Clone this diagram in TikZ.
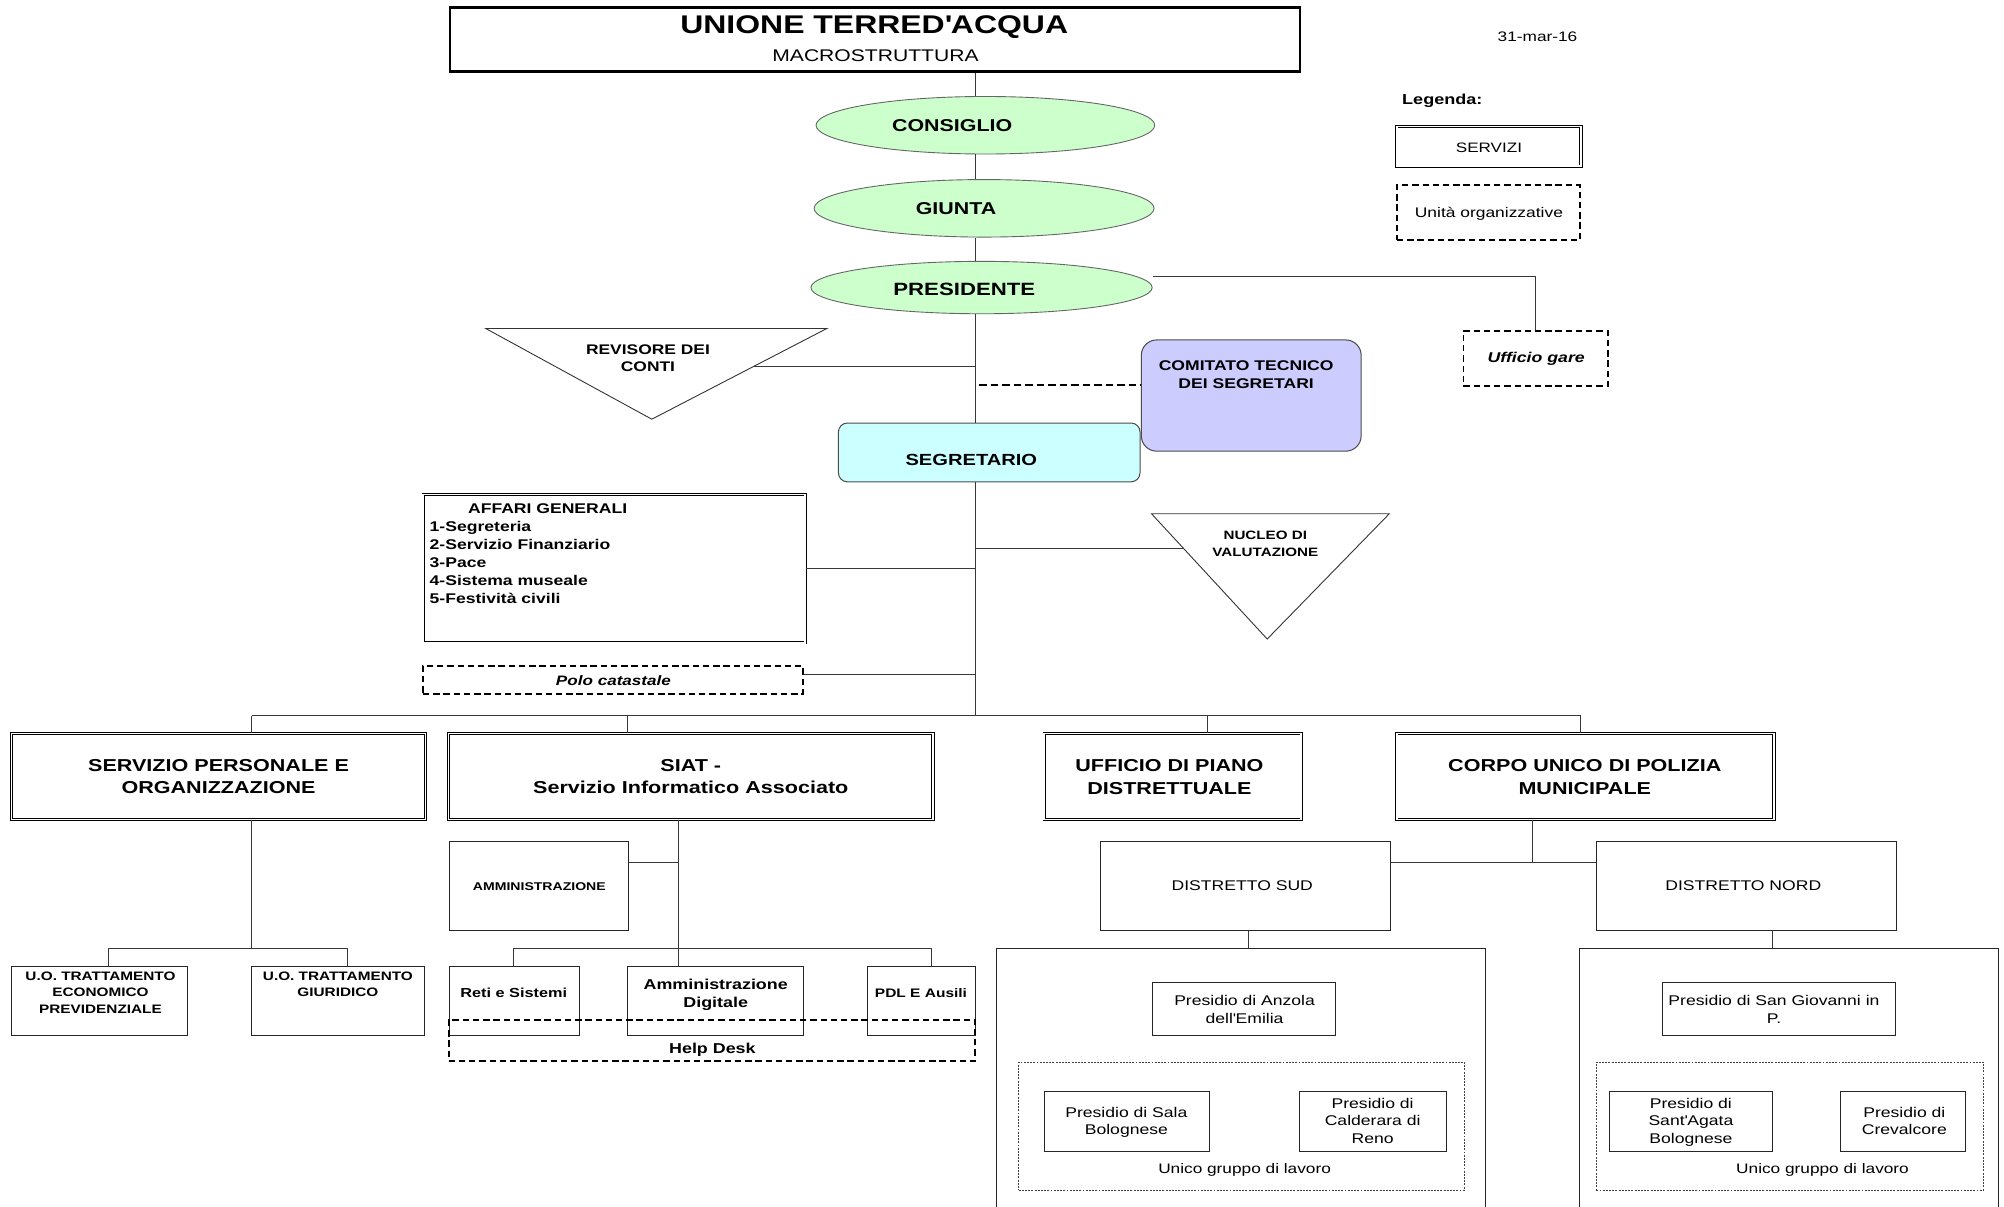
\documentclass[tikz,border=0pt]{standalone}
\usepackage{fontspec}
\setmainfont[FakeStretch=1.25]{Liberation Sans}
\usetikzlibrary{shapes.geometric}
\definecolor{lgreen}{HTML}{CCFFCC}
\definecolor{lviolet}{HTML}{CCCCFF}
\definecolor{lcyan}{HTML}{CCFFFF}
\definecolor{ln}{HTML}{383838}
\newcommand\fsz[2]{\fontsize{#1}{#2}\selectfont}
\newcommand\mkbox[7]{\node[#1,minimum width={(#4)-(#2)},minimum height={(#5)-(#3)}] (#6) at ({((#2)+(#4))/2},{((#3)+(#5))/2}) {#7};}
\begin{document}
\begin{tikzpicture}[x=1pt,y=-1pt,
  conn/.style={draw=ln, line width=0.8pt},
  dline/.style={draw=black, line width=1.4pt, dash pattern=on 6pt off 3pt},
  bx/.style={draw=black!85, line width=0.7pt, rectangle, inner sep=0pt},
  svc/.style={draw=black, double, double distance=1.1pt, line width=0.65pt, rectangle, inner sep=0pt},
  dbox/.style={draw=black, line width=1.4pt, dash pattern=on 5pt off 3pt, rectangle, inner sep=0pt},
  dotbox/.style={draw=black!75, line width=0.6pt, dash pattern=on 1.5pt off 1pt, rectangle, inner sep=0pt},
  ell/.style={ellipse, draw=black!60, fill=lgreen, line width=0.7pt, inner sep=0pt},
  tri/.style={draw=black!80, line width=0.7pt},
  tn/.style 2 args={anchor=base, inner sep=0pt, align=center, font=\fsz{#1}{#2}},
  tb/.style 2 args={anchor=base, inner sep=0pt, align=center, font=\bfseries\fsz{#1}{#2}},
  tbi/.style 2 args={anchor=base, inner sep=0pt, align=center, font=\bfseries\itshape\fsz{#1}{#2}},
]
\useasboundingbox (0,0) rectangle (1568,944);
\fill[white] (0,0) rectangle (1568,944);

% trunk reference
\coordinate (tk) at (763,0);

% title and legend
\mkbox{bx, draw=black, line width=2pt}{352}{6}{1017}{56}{title}{}
\node[tb={20}{24}] (tt1) at (684,26) {UNIONE TERRED\textquotesingle ACQUA};
\node[tn={13.2}{16}] (tt2) at (685,48.5) {MACROSTRUTTURA};
\node[tn={10.8}{13}] (date) at (1203,32.6) {31-mar-16};
\node[tb={11.3}{14}] (leg) at (1128.5,82) {Legenda:};
\mkbox{svc}{1093}{99}{1237}{130}{legS}{}
\node[tn={10.7}{13}] (legSt) at (1165,119) {SERVIZI};
\mkbox{dbox}{1093}{145}{1236}{188}{legU}{}
\node[tn={10.9}{13}] (legUt) at (1165,170) {Unità organizzative};

% ellipses
\node[ell, minimum width=265pt, minimum height=45pt] (cons) at (771,98) {};
\node[tb={13.4}{16}] (const) at (745,103) {CONSIGLIO};
\node[ell, minimum width=266pt, minimum height=45pt] (giu) at (770,163) {};
\node[tb={13.4}{16}] (giut) at (748,167.5) {GIUNTA};
\node[ell, minimum width=267pt, minimum height=41pt] (pres) at (768,225) {};
\node[tb={13.9}{16}] (prest) at (754.5,231) {PRESIDENTE};

% ufficio gare
\mkbox{dbox}{1145}{259}{1258}{302}{ug}{}
\node[tbi={11.1}{13}] (ugt) at (1202,284) {Ufficio gare};

% revisore
\draw[tri] (380,257) -- (647,257) -- (510,328) -- cycle;
\coordinate (revR) at (589,287);
\node[tb={10.9}{14}] (revt) at (507,291) {REVISORE DEI\\CONTI};

% comitato
\mkbox{rounded corners=12pt, draw=black!70, fill=lviolet, line width=0.8pt, rectangle}{893}{266}{1065}{353}{com}{}
\node[tb={11}{14}] (comt) at (975,304) {COMITATO TECNICO\\DEI SEGRETARI};
\coordinate (cd) at (766,301.5);

% segretario
\mkbox{rounded corners=7pt, draw=black!70, fill=lcyan, line width=0.8pt, rectangle}{656}{331}{892}{377}{seg}{}
\node[tb={12.6}{15}] (segt) at (760,364) {SEGRETARIO};

% affari generali
\mkbox{svc}{331}{387}{630}{503}{aff}{}
\node[tb={11}{14}] (afft) at (428.5,402) {AFFARI GENERALI};
\node[tb={11}{14}, anchor=base west, align=left] (affl) at (336,472) {1-Segreteria\\2-Servizio Finanziario\\3-Pace\\4-Sistema museale\\5-Festività civili};

% nucleo
\draw[tri] (901,402) -- (1087,402) -- (991.5,500) -- cycle;
\coordinate (nucL) at (926,429);
\node[tb={9.5}{13.6}] (nuct) at (990,435.6) {NUCLEO DI\\VALUTAZIONE};

% polo catastale
\mkbox{dbox}{331}{521}{628}{543}{polo}{}
\node[tbi={10.7}{13}] (polot) at (480,536) {Polo catastale};

% level 2 services
\mkbox{svc}{9}{574}{333}{641}{spo}{}
\node[tb={13.5}{17.6}] (spot) at (171,621) {SERVIZIO PERSONALE E\\ORGANIZZAZIONE};
\mkbox{svc}{351}{574}{730}{641}{siat}{}
\node[tb={13.5}{17.6}] (siatt) at (540.5,621) {SIAT -\\Servizio Informatico Associato};
\mkbox{svc}{817}{574}{1018}{641}{upd}{}
\node[tb={13.5}{17.6}] (updt) at (915,621.4) {UFFICIO DI PIANO\\DISTRETTUALE};
\mkbox{svc}{1093}{574}{1388}{641}{corpo}{}
\node[tb={13.5}{17.6}] (corpot) at (1240,621.4) {CORPO UNICO DI POLIZIA\\MUNICIPALE};

% SPO children
\mkbox{bx}{9}{756}{147}{810}{uo1}{}
\node[tb={9.6}{13}] (uo1t) at (78.6,793) {U.O. TRATTAMENTO\\ECONOMICO\\PREVIDENZIALE};
\mkbox{bx}{197}{756}{332}{810}{uo2}{}
\node[tb={9.6}{13}] (uo2t) at (264.4,780) {U.O. TRATTAMENTO\\GIURIDICO};

% SIAT children
\mkbox{bx}{352}{658}{492}{728}{amm}{}
\node[tb={8.8}{11}] (ammt) at (422,696.4) {AMMINISTRAZIONE};
\mkbox{bx}{352}{756}{453}{810}{reti}{}
\node[tb={10.2}{13}] (retit) at (402,780.4) {Reti e Sistemi};
\mkbox{bx}{491}{756}{629}{810}{adig}{}
\node[tb={11.2}{14}] (adigt) at (560,788) {Amministrazione\\Digitale};
\mkbox{bx}{679}{756}{763}{810}{pdl}{}
\node[tb={9.7}{12}] (pdlt) at (720.6,780.4) {PDL E Ausili};
\mkbox{dbox}{351}{798}{763}{830}{help}{}
\node[tb={11.2}{14}] (helpt) at (557.4,824.2) {Help Desk};

% Polizia districts
\mkbox{bx}{861}{658}{1088}{728}{sud}{}
\node[tn={11}{14}] (sudt) at (972,697) {DISTRETTO SUD};
\mkbox{bx}{1249}{658}{1484}{728}{nord}{}
\node[tn={11}{14}] (nordt) at (1364,697) {DISTRETTO NORD};
\mkbox{bx}{780}{742}{1162}{990}{csud}{}
\mkbox{bx}{1236}{742}{1564}{990}{cnord}{}

\mkbox{bx}{902}{769}{1045}{810}{anz}{}
\node[tn={11}{13.6}] (anzt) at (973.8,800.6) {Presidio di Anzola\\dell\textquotesingle Emilia};
\mkbox{dotbox}{797}{831}{1146}{931}{gsud}{}
\mkbox{bx}{817}{854}{946}{901}{sala}{}
\node[tn={11}{13.6}] (salat) at (881.3,887.9) {Presidio di Sala\\Bolognese};
\mkbox{bx}{1017}{854}{1132}{901}{cald}{}
\node[tn={11}{14}] (caldt) at (1074,895) {Presidio di\\Calderara di\\Reno};
\node[tn={10.8}{13}] (gsudt) at (973.8,918) {Unico gruppo di lavoro};

\mkbox{bx}{1301}{769}{1483}{810}{sgio}{}
\node[tn={11}{13.6}] (sgiot) at (1388,800.6) {Presidio di San Giovanni in\\P.};
\mkbox{dotbox}{1249}{831}{1552}{931}{gnord}{}
\mkbox{bx}{1259}{854}{1387}{901}{sant}{}
\node[tn={11}{14}] (santt) at (1323,895) {Presidio di\\Sant\textquotesingle Agata\\Bolognese};
\mkbox{bx}{1440}{854}{1538}{901}{crev}{}
\node[tn={11}{14}] (crevt) at (1490,888) {Presidio di\\Crevalcore};
\node[tn={10.8}{13}] (gnordt) at (1426,918) {Unico gruppo di lavoro};

% ---------- connectors ----------
\draw[conn] (title.south -| tk) -- (cons.north -| tk);
\draw[conn] (cons.south -| tk) -- (giu.north -| tk);
\draw[conn] (giu.south -| tk) -- (pres.north -| tk);
\draw[conn] (pres.south -| tk) -- (seg.north -| tk);
\draw[conn] ([yshift=9pt]pres.east) -| (ug.north);
\draw[conn] (revR) -- (revR -| tk);
\draw[dline] (cd) -- (cd -| com.west);
\draw[conn] (aff.east) -- (aff.east -| tk);
\draw[conn] (nucL -| tk) -- (nucL);
\draw[conn] ([yshift=4pt]polo.east) -- ([yshift=4pt]polo.east -| tk);

\coordinate (b1) at (197,560);
\coordinate (b2) at (491,560);
\coordinate (bm) at (763,560);
\coordinate (b3) at (945,560);
\coordinate (b4) at (1237,560);
\draw[conn] (seg.south -| tk) -- (bm);
\draw[conn] (b1) -- (b4);
\draw[conn] (b1) -- (b1 |- spo.north);
\draw[conn] (b2) -- (b2 |- siat.north);
\draw[conn] (b3) -- (b3 |- upd.north);
\draw[conn] (b4) -- (b4 |- corpo.north);

\coordinate (s1) at (197,742);
\coordinate (s2) at (85,742);
\coordinate (s3) at (272,742);
\draw[conn] (spo.south -| s1) -- (s1);
\draw[conn] (s2) -- (s3);
\draw[conn] (s2) -- (s2 |- uo1.north);
\draw[conn] (s3) -- (s3 |- uo2.north);

\coordinate (a1) at (530.5,675);
\coordinate (a2) at (402,742);
\coordinate (a3) at (729,742);
\draw[conn] (siat.south -| a1) -- (a1 |- adig.north);
\draw[conn] (amm.east |- a1) -- (a1);
\draw[conn] (a2) -- (a3);
\draw[conn] (a2) -- (a2 |- reti.north);
\draw[conn] (a3) -- (a3 |- pdl.north);

\coordinate (c1) at (1199,675);
\draw[conn] (corpo.south -| c1) -- (c1);
\draw[conn] (sud.east |- c1) -- (nord.west |- c1);
\coordinate (d1) at (977,742);
\coordinate (d2) at (1387,742);
\draw[conn] (sud.south -| d1) -- (d1 |- csud.north);
\draw[conn] (nord.south -| d2) -- (d2 |- cnord.north);
\end{tikzpicture}
\end{document}
